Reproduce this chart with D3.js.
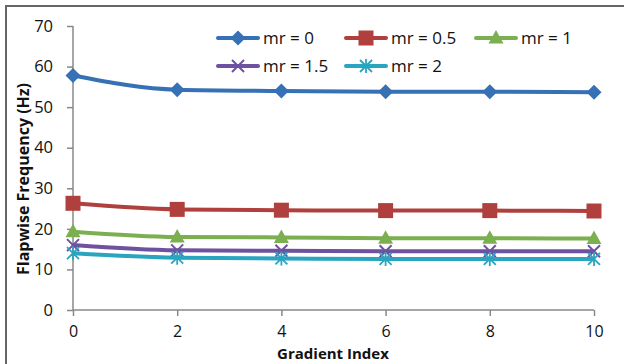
<!DOCTYPE html>
<html><head><meta charset="utf-8">
<script src="https://cdn.jsdelivr.net/npm/d3@7"></script>
<style>body{margin:0;background:#fff}svg{display:block}</style>
</head><body><svg id="c" width="624" height="364"></svg>
<script>
const xValues = [0, 2, 4, 6, 8, 10];
const seriesNames = ["mr = 0", "mr = 0.5", "mr = 1", "mr = 1.5", "mr = 2"];
const mr0 = [57.8, 54.3, 54.0, 53.8, 53.8, 53.7];
const mr05 = [26.3, 24.8, 24.6, 24.5, 24.5, 24.4];
const mr1 = [19.3, 18.0, 17.9, 17.7, 17.7, 17.6];
const mr15 = [16.0, 14.7, 14.6, 14.5, 14.5, 14.5];
const mr2 = [14.0, 12.9, 12.7, 12.6, 12.6, 12.6];
const yTicks = [0, 10, 20, 30, 40, 50, 60, 70];
const colors = ["#3670B5", "#B0403E", "#7BAF4F", "#6E52A0", "#2AA5C0"];
const markers = ["diamond", "square", "triangle", "x", "star"];
const data = [mr0, mr05, mr1, mr15, mr2];

const svg = d3.select("#c");
const font = "'Open Sans', 'Noto Sans', sans-serif";
svg.append("rect").attr("x", 6).attr("y", 6).attr("width", 640).attr("height", 400)
  .attr("fill", "none").attr("stroke", "#666").attr("stroke-width", 2);

const x = d3.scaleLinear().domain([0, 10]).range([73, 594]);
const y = d3.scaleLinear().domain([0, 70]).range([310, 26]);

const xa = svg.append("g").attr("transform", "translate(0,310)")
  .call(d3.axisBottom(x).tickValues(xValues).tickSize(6).tickPadding(10));
const ya = svg.append("g").attr("transform", "translate(73,0)")
  .call(d3.axisLeft(y).tickValues(yTicks).tickSize(6).tickPadding(14));
[xa, ya].forEach(a => {
  a.selectAll("path, line").attr("stroke", "#888").attr("stroke-width", 1.5);
  a.select(".domain").attr("d", a === xa ? "M73,0H594" : "M0,26V310");
  a.selectAll("text").attr("font-family", font).attr("font-size", 16.5).attr("fill", "#111");
});
xa.selectAll("text").attr("font-size", 16);

svg.append("text").attr("x", 333).attr("y", 359).attr("text-anchor", "middle")
  .attr("font-family", font).attr("font-weight", "bold").attr("font-size", 15).attr("fill", "#111")
  .text("Gradient Index");
svg.append("text").attr("transform", "translate(29,179) rotate(-90)").attr("text-anchor", "middle")
  .attr("font-family", font).attr("font-weight", "bold").attr("font-size", 16).attr("fill", "#111")
  .text("Flapwise Frequency (Hz)");

function drawMarker(g, type, cx, cy, color) {
  if (type === "diamond") {
    g.append("path").attr("d", `M${cx},${cy-7.5}L${cx+7.5},${cy}L${cx},${cy+7.5}L${cx-7.5},${cy}Z`).attr("fill", color);
  } else if (type === "square") {
    g.append("rect").attr("x", cx-7.5).attr("y", cy-7.5).attr("width", 15).attr("height", 15).attr("fill", color);
  } else if (type === "triangle") {
    g.append("path").attr("d", `M${cx},${cy-8}L${cx+7.5},${cy+5.5}L${cx-7.5},${cy+5.5}Z`).attr("fill", color);
  } else if (type === "x") {
    g.append("path").attr("d", `M${cx-6},${cy-6}L${cx+6},${cy+6}M${cx+6},${cy-6}L${cx-6},${cy+6}`)
      .attr("stroke", color).attr("stroke-width", 2);
  } else {
    g.append("path").attr("d", `M${cx-6},${cy-6}L${cx+6},${cy+6}M${cx+6},${cy-6}L${cx-6},${cy+6}M${cx},${cy-7}L${cx},${cy+7}`)
      .attr("stroke", color).attr("stroke-width", 1.8);
  }
}

const line = d3.line().x((d, i) => x(xValues[i])).y(d => y(d)).curve(d3.curveMonotoneX);
data.forEach((s, k) => {
  const g = svg.append("g");
  g.append("path").attr("d", line(s)).attr("fill", "none").attr("stroke", colors[k]).attr("stroke-width", 4);
  s.forEach((v, i) => drawMarker(g, markers[k], x(xValues[i]), y(v), colors[k]));
});

// legend
const legPos = [[218, 38], [346, 38], [476, 38], [218, 66], [346, 66]];
seriesNames.forEach((n, k) => {
  const [lx, ly] = legPos[k];
  const g = svg.append("g");
  g.append("line").attr("x1", lx).attr("x2", lx + 40).attr("y1", ly).attr("y2", ly)
    .attr("stroke", colors[k]).attr("stroke-width", 4).attr("stroke-linecap", "round");
  drawMarker(g, markers[k], lx + 20, ly, colors[k]);
  g.append("text").attr("x", lx + 45).attr("y", ly + 6).attr("font-family", font).attr("font-size", 17)
    .attr("fill", "#111").text(n);
});
</script></body></html>
